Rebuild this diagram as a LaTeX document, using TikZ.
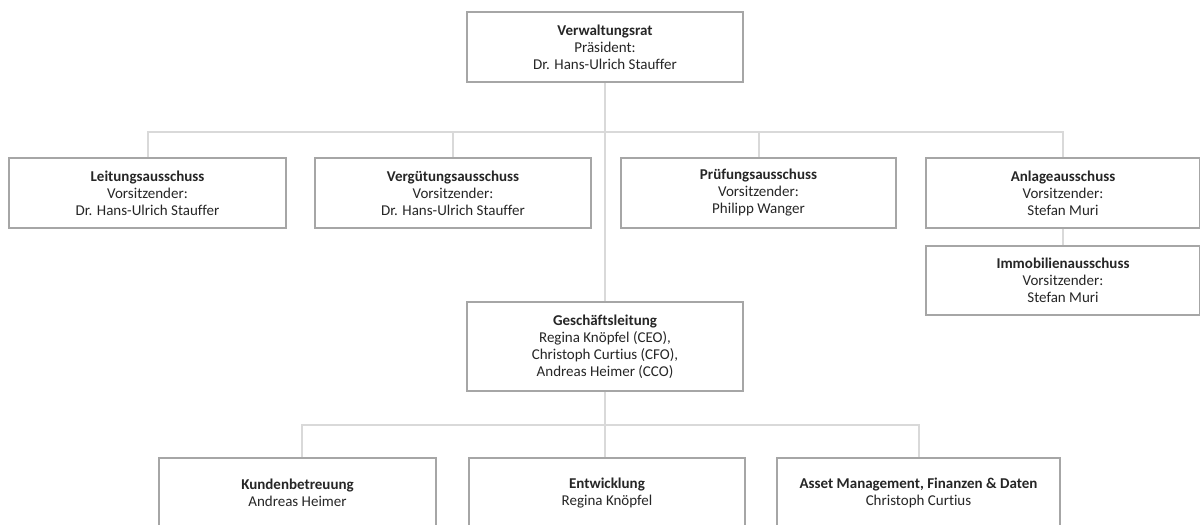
\documentclass[tikz,border=0pt]{standalone}
\usepackage{fontspec}
\setmainfont{Carlito}[Ligatures={NoCommon}]
\definecolor{boxgray}{RGB}{166,166,166}
\definecolor{linegray}{RGB}{217,217,217}
\begin{document}
\begin{tikzpicture}[x=1pt,y=-1pt,
  orgbox/.style={draw=boxgray,line width=2pt,fill=white,rectangle,inner sep=0pt,outer sep=0pt,
    align=center,font=\fontsize{15}{17}\selectfont,text=black!85},
  conn/.style={draw=linegray,line width=2pt}]
\useasboundingbox (0,0) rectangle (1200,525);
\clip (0,0) rectangle (1200,525);
\coordinate (bus) at (605,132);
\coordinate (lbus) at (605,425);
\node[orgbox,minimum width=276,minimum height=70] (vr) at (605,47) {\textbf{Verwaltungsrat}\\Präsident:\\Dr. Hans-Ulrich Stauffer};
\node[orgbox,minimum width=277,minimum height=70] (lei) at (147.5,193) {\textbf{Leitungsausschuss}\\Vorsitzender:\\Dr. Hans-Ulrich Stauffer};
\node[orgbox,minimum width=276,minimum height=70] (ver) at (453,193) {\textbf{Vergütungsausschuss}\\Vorsitzender:\\Dr. Hans-Ulrich Stauffer};
\node[orgbox,minimum width=275,minimum height=70] (pru) at (758.5,193) {\textbf{Prüfungsausschuss}\\Vorsitzender:\\Philipp Wanger};
\node[orgbox,minimum width=274,minimum height=70] (anl) at (1063,193) {\textbf{Anlageausschuss}\\Vorsitzender:\\Stefan Muri};
\node[orgbox,minimum width=274,minimum height=69] (imm) at (1063,280.5) {\textbf{Immobilienausschuss}\\Vorsitzender:\\Stefan Muri};
\node[orgbox,minimum width=276,minimum height=89] (gl) at (605,346.5) {\textbf{Geschäftsleitung}\\Regina Knöpfel (CEO),\\Christoph Curtius (CFO),\\Andreas Heimer (CCO)};
\node[orgbox,minimum width=277,minimum height=70] (kun) at (297.5,493) {\textbf{Kundenbetreuung}\\Andreas Heimer};
\node[orgbox,minimum width=276,minimum height=70] (ent) at (607,493) {\textbf{Entwicklung}\\Regina Knöpfel};
\node[orgbox,minimum width=283,minimum height=70] (ass) at (918.5,493) {\textbf{Asset Management, Finanzen \& Daten}\\Christoph Curtius};
% connectors
\draw[conn] (vr.south) -- (bus);
\draw[conn] (bus) -- (gl.north);
\draw[conn] (lei.north) |- (bus) -| (anl.north);
\draw[conn] (ver.north) -- (ver.north |- bus);
\draw[conn] (pru.north) -- (pru.north |- bus);
\draw[conn] (anl.south) -- (imm.north);
\draw[conn] (gl.south) -- (gl.south |- ent.north);
\draw[conn] ([xshift=4.5pt]kun.north) |- (lbus) -| (ass.north);
% box borders over connector ends
\foreach \n in {vr,lei,ver,pru,anl,imm,gl,kun,ent,ass}{
  \draw[boxgray,line width=2pt] (\n.south west) rectangle (\n.north east);
}
\end{tikzpicture}
\end{document}
